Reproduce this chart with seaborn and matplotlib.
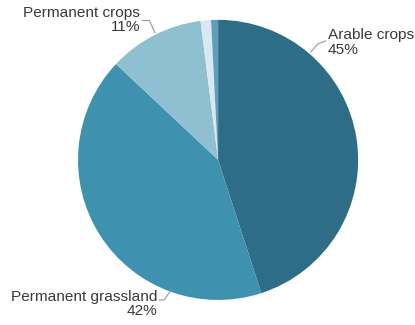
import numpy as np
import matplotlib
matplotlib.use("Agg")
import matplotlib.pyplot as plt
import seaborn as sns

# Shares of utilised agricultural area (%), clockwise from the top
categories = ["Arable crops", "Permanent grassland", "Permanent crops", "Kitchen gardens", "Other"]
shares = [45, 42, 11, 1.2, 0.8]
label_text = ["Arable crops\n45%", "Permanent grassland\n42%", "Permanent crops\n11%", None, None]
colors = ["#2e6d87", "#3e92b0", "#8ec0d1", "#d8e8f0", "#5d9fba"]

sns.set_theme(style="white")
plt.rcParams["font.family"] = ["Liberation Sans", "DejaVu Sans"]

fig = plt.figure(figsize=(4.15, 3.25), dpi=100)
ax = fig.add_axes([0.188, 0.077, 0.675, 0.862])
wedges, _ = ax.pie(shares, colors=colors, startangle=90, counterclock=False,
                   radius=1.0, wedgeprops=dict(linewidth=0))
ax.set_xlim(-1, 1)
ax.set_ylim(-1, 1)
ax.set_aspect("equal")
ax.axis("off")

txt_color = "#3a3a3a"
line_color = "#9a9a9a"

# label placement: (text x, text y, alignment, leader polyline)
placements = {
    0: (0.785, 0.84, "left", [(0.77, 0.85), (0.715, 0.83), (0.66, 0.77)]),
    1: (-0.435, -1.03, "right", [(-0.42, -1.0), (-0.385, -1.0), (-0.34, -0.935)]),
    2: (-0.555, 1.0, "right", [(-0.54, 0.995), (-0.49, 0.995), (-0.45, 0.905)]),
}
for i, (tx, ty, ha, pts) in placements.items():
    ax.text(tx, ty, label_text[i], ha=ha, va="center", multialignment=ha,
            fontsize=11.1, color=txt_color, linespacing=1.05, clip_on=False)
    xs, ys = zip(*pts)
    ax.plot(xs, ys, color=line_color, lw=0.8, clip_on=False)

fig.savefig("out.png", dpi=100, facecolor="white")
